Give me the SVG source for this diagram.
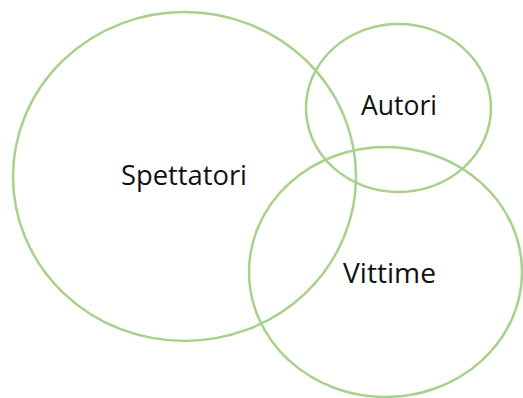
<svg xmlns="http://www.w3.org/2000/svg" width="523" height="398" viewBox="0 0 523 398">
<style>
.c{fill:none;stroke:#a9d18e;stroke-width:2.5}
.t{font-family:"Open Sans","Liberation Sans",sans-serif;font-size:28px;fill:#111}
</style>
<rect width="523" height="398" fill="#fff"/>
<g id="spettatori"><ellipse class="c" cx="184.5" cy="176.5" rx="171.5" ry="164.5"/><text class="t" x="121" y="185" textLength="126" lengthAdjust="spacingAndGlyphs">Spettatori</text></g>
<g id="autori"><ellipse class="c" cx="398.5" cy="108" rx="92.5" ry="84"/><text class="t" x="361" y="115" textLength="76" lengthAdjust="spacingAndGlyphs">Autori</text></g>
<g id="vittime"><ellipse class="c" cx="385.5" cy="272" rx="136.5" ry="125"/><text class="t" x="343" y="283" textLength="93" lengthAdjust="spacingAndGlyphs">Vittime</text></g>
<g id="connectors"/>
</svg>
